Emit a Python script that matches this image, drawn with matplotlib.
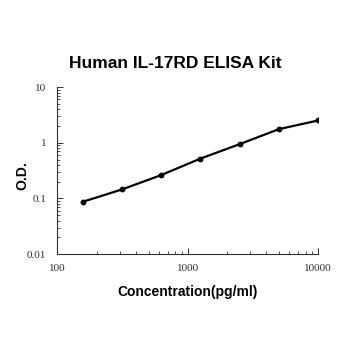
import matplotlib
matplotlib.use("Agg")
import matplotlib.pyplot as plt
from matplotlib.ticker import LogLocator, FixedLocator, FixedFormatter, NullFormatter

# standard curve readings
conc = [156.25, 312.5, 625, 1250, 2500, 5000, 10000]
od = [0.087, 0.145, 0.263, 0.52, 0.946, 1.76, 2.52]

x_ticks = [100, 1000, 10000]
x_labels = ["100", "1000", "10000"]
y_ticks = [0.01, 0.1, 1, 10]
y_labels = ["0.01", "0.1", "1", "10"]

fig = plt.figure(figsize=(3.5, 3.5), dpi=100)
ax = fig.add_axes([0.164, 0.274, 0.745, 0.477])

ax.plot(conc, od, color="black", lw=1.6, marker="o", ms=3.2)

ax.set_xscale("log")
ax.set_yscale("log")
ax.set_xlim(100, 10000)
ax.set_ylim(0.01, 10)

ax.xaxis.set_major_locator(FixedLocator(x_ticks))
ax.xaxis.set_major_formatter(FixedFormatter(x_labels))
ax.yaxis.set_major_locator(FixedLocator(y_ticks))
ax.yaxis.set_major_formatter(FixedFormatter(y_labels))
ax.xaxis.set_minor_locator(LogLocator(base=10, subs=range(2, 10)))
ax.yaxis.set_minor_locator(LogLocator(base=10, subs=range(2, 10)))
ax.xaxis.set_minor_formatter(NullFormatter())
ax.yaxis.set_minor_formatter(NullFormatter())

for s in ["top", "right"]:
    ax.spines[s].set_visible(False)
for s in ["left", "bottom"]:
    ax.spines[s].set_linewidth(0.8)
    ax.spines[s].set_color("#333333")

ax.tick_params(which="major", direction="in", length=4, width=0.7, color="#333333")
ax.tick_params(which="minor", direction="in", length=2.5, width=0.6, color="#333333")
ax.tick_params(axis="x", pad=7)
ax.tick_params(axis="y", pad=8)
for lab in ax.get_xticklabels() + ax.get_yticklabels():
    lab.set_fontfamily("Liberation Serif")
    lab.set_fontsize(8)
    lab.set_color("#333333")

fig.text(0.5, 0.82, "Human IL-17RD ELISA Kit", ha="center", va="center",
         fontsize=12.5, fontweight="bold", family="Liberation Sans")
fig.text(0.536, 0.166, "Concentration(pg/ml)", ha="center", va="center",
         fontsize=10, fontweight="bold", family="Liberation Sans")
fig.text(0.063, 0.497, "O.D.", ha="center", va="center", rotation=90,
         fontsize=10, fontweight="bold", family="Liberation Sans")

fig.savefig("out.png", dpi=100, facecolor="white")
